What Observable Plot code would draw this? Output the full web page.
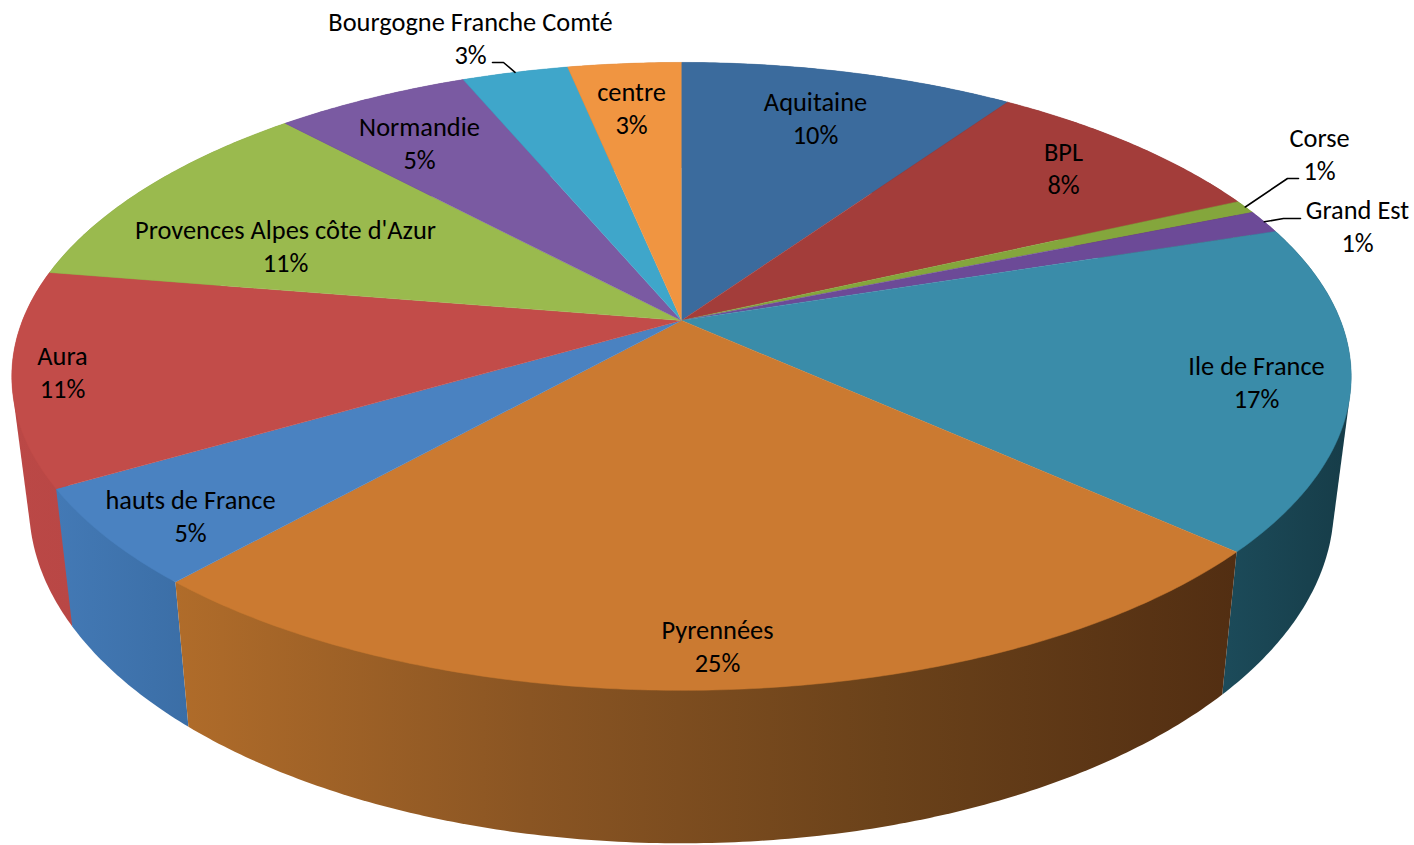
<!DOCTYPE html>
<html><head><meta charset="utf-8">
<script src="https://cdn.jsdelivr.net/npm/d3@7"></script>
<script src="https://cdn.jsdelivr.net/npm/@observablehq/plot@0.6"></script>
<style>html,body{margin:0;padding:0;background:#fff;overflow:hidden}svg{display:block}</style>
</head><body><div id="chart"></div>
<script>
// Data
const names = ["Aquitaine","BPL","Corse","Grand Est","Ile de France","Pyrennées","hauts de France","Aura","Provences Alpes côte d'Azur","Normandie","Bourgogne Franche Comté","centre"];
const values = [9.6,8.5,0.7,1.2,16.7,24.9,5.0,11.0,10.5,5.6,3.05,3.25];
const percentLabels = ["10%","8%","1%","1%","17%","25%","5%","11%","11%","5%","3%","3%"];

// Styles and layout
const topColors = ["#3b6b9d","#a33d3a","#84a63c","#6c4a97","#3a8ca9","#cb7a31","#4a82c1","#c24c49","#9aba4e","#7a5aa2","#3fa6ca","#f09541"];
const wallStops = {
  4: ["#1c4b5a","#163c48"],
  5: ["#b06c2a","#8a5523","#6b421a","#522e12"],
  6: ["#4379b5","#3b6ea6"],
  7: ["#bb4846","#b94745"]
};
const labelAt = [[815,116],[1063,166],[1319,152],[1357,224],[1256,380],[717,644],[190,514],[62,370],[285,244],[419,141],[470,36],[631,106]];
const leaders = {2:[1298,178,1287,178], 3:[1300,218,1283,218], 10:[492,62,503,62]};

// Perspective discs: top face and lower rim
const k = 0.178;
const topDisc = {cx:681, cy:320, a:659, b:304};
const lowDisc = {cx:681, cy:445, a:642, b:327};
const project = (d, angle, r = 1) => {
  const x = r*Math.sin(angle), y = -r*Math.cos(angle), w = 1 - k*y;
  return {x: d.cx + d.a*x/w, y: d.cy + d.b*y/w};
};

const pie = d3.pie().sort(null).value(d => d)(values);
const arcAngles = (s) => {
  const n = Math.max(2, Math.ceil((s.endAngle - s.startAngle)/0.01));
  return d3.range(n + 1).map(i => s.startAngle + (s.endAngle - s.startAngle)*i/n);
};
const tops = pie.map(s => [{x:topDisc.cx, y:topDisc.cy}, ...arcAngles(s).map(a => project(topDisc,a))]);
// Each wall is the hull of its two rims, so the side outline runs straight between them
const walls = pie.map(s => {
  const as = arcAngles(s);
  const pts = [...as.map(a => project(topDisc,a)), ...as.map(a => project(lowDisc,a))];
  return d3.polygonHull(pts.map(p => [p.x,p.y])).map(([x,y]) => ({x,y}));
});
const wallOrder = d3.range(pie.length)
  .sort((i,j) => -Math.cos((pie[i].startAngle+pie[i].endAngle)/2) + Math.cos((pie[j].startAngle+pie[j].endAngle)/2));

const defs = () => {
  const svg = d3.create("svg:defs");
  Object.entries(wallStops).forEach(([i, stops]) => {
    const g = svg.append("linearGradient").attr("id", `wall${i}`).attr("x1",0).attr("x2",1).attr("y1",0).attr("y2",0);
    stops.forEach((c, j) => g.append("stop").attr("offset", j/(stops.length-1)).attr("stop-color", c));
  });
  return svg.node();
};

const wallFill = i => wallStops[i] ? `url(#wall${i})` : d3.color(topColors[i]).darker(0.8).formatHex();

const rimPoint = i => project(topDisc, (pie[i].startAngle + pie[i].endAngle)/2);
const leaderLines = Object.entries(leaders).map(([i, [x1,y1,x2,y2]]) => {
  const p = rimPoint(+i);
  return [{x:x1,y:y1},{x:x2,y:y2},p];
});

const chart = Plot.plot({
  width: 1414, height: 845,
  margin: 0,
  x: {domain:[0,1414], range:[0,1414], axis:null},
  y: {domain:[0,845], range:[0,845], axis:null},
  style: {background:"#fff", fontFamily:"Carlito, Lato, sans-serif"},
  marks: [
    defs,
    ...wallOrder.map(i => Plot.line([...walls[i], walls[i][0]], {x:"x", y:"y", fill:wallFill(i), stroke:"none"})),
    ...tops.map((t,i) => Plot.line(t, {x:"x", y:"y", fill:topColors[i], stroke:topColors[i], strokeWidth:0.5})),
    ...leaderLines.map(l => Plot.line(l, {x:"x", y:"y", stroke:"#000", strokeWidth:1.6})),
    Plot.text(names.map((n,i) => ({text:`${n}\n${percentLabels[i]}`, x:labelAt[i][0], y:labelAt[i][1]})), {
      x:"x", y:"y", text:"text", fontSize:26.4, lineHeight:1.25, fill:"#000", textAnchor:"middle"
    })
  ]
});
document.getElementById("chart").append(chart);
</script></body></html>
